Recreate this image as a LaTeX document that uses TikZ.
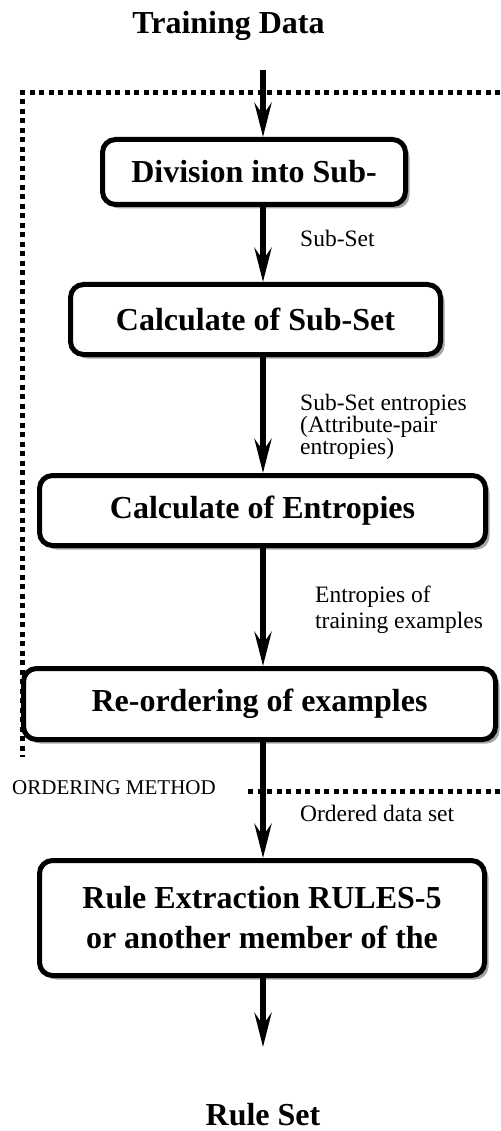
\documentclass[tikz,border=0pt]{standalone}
\usepackage{fontspec}
\setmainfont{Liberation Serif}
\usetikzlibrary{arrows.meta,shadows}
\begin{document}
\begin{tikzpicture}[x=1pt,y=-1pt,
 box/.style={draw, line width=5pt, rounded corners=13pt, fill=white, align=center, inner sep=0pt,
   font=\fontsize{32}{40}\selectfont\bfseries,
   drop shadow={shadow xshift=4pt, shadow yshift=-4pt, fill=black!35, opacity=1}},
 lbl/.style={anchor=west, align=left, inner sep=0pt},
 flow/.style={line width=5.5pt, -{Stealth[length=34pt,width=17pt,inset=12pt]}},
 frame/.style={line width=5pt, dash pattern=on 5pt off 4.5pt}]
\useasboundingbox (0,0) rectangle (500,1131);
% dotted frame
\draw[frame] (500,93) -- (22,93) -- (22,757);
\draw[frame] (500,791) -- (245,791);
% title and end text
\node[font=\fontsize{32}{36}\selectfont\bfseries] (title) at (228.5,26) {Training Data};
\node[font=\fontsize{32}{36}\selectfont\bfseries] (rs) at (263,1115) {Rule Set};
\coordinate (s) at (263,70);
\coordinate (e) at (263,1047);
% boxes
\node[box, minimum width=303pt, minimum height=65pt] (b1) at (254,172) {Division into Sub-};
\node[box, minimum width=370pt, minimum height=70pt] (b2) at (255.5,319.5) {Calculate of Sub-Set};
\node[box, minimum width=446pt, minimum height=70pt] (b3) at (262.5,510.5) {Calculate of Entropies};
\node[box, minimum width=472pt, minimum height=71pt] (b4) at (259.5,704) {Re-ordering of examples};
\node[box, minimum width=445pt, minimum height=115pt] (b5) at (262,918) {Rule Extraction RULES-5\\or another member of the};
% arrows
\draw[flow] (s) -- (s |- b1.north);
\draw[flow] (b1.south -| s) -- (b2.north -| s);
\draw[flow] (b2.south -| s) -- (b3.north -| s);
\draw[flow] (b3.south -| s) -- (b4.north -| s);
\draw[flow] (b4.south -| s) -- (b5.north -| s);
\draw[flow] (b5.south -| s) -- (e);
% labels
\node[lbl, font=\fontsize{23.5}{22}\selectfont] (l1) at (300,238) {Sub-Set};
\node[lbl, font=\fontsize{23.5}{22}\selectfont] (l2) at (300,427) {Sub-Set entropies\\(Attribute-pair\\entropies)};
\node[lbl, font=\fontsize{23.5}{26}\selectfont] (l3) at (315,610) {Entropies of\\training examples};
\node[lbl, font=\fontsize{23.5}{26}\selectfont] (l4) at (300,813) {Ordered data set};
\node[lbl, font=\fontsize{21}{24}\selectfont] (om) at (12,788) {ORDERING METHOD};
\end{tikzpicture}
\end{document}
